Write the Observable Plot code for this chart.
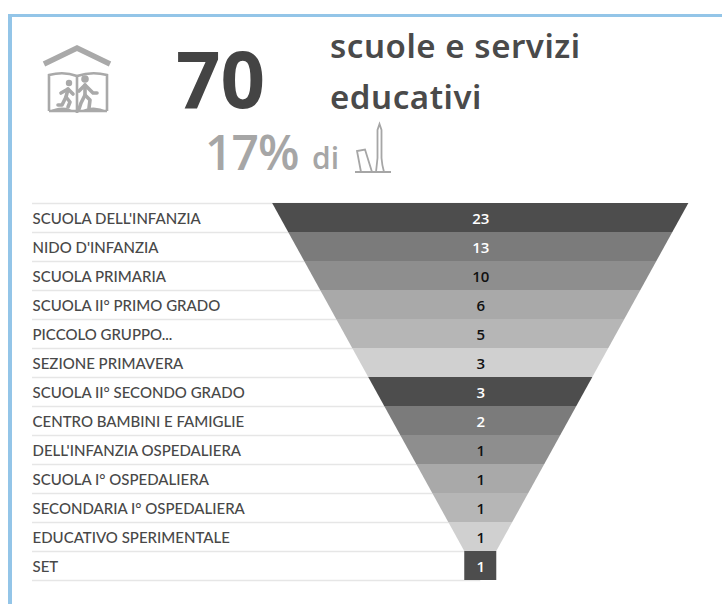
<!DOCTYPE html>
<html><head><meta charset="utf-8">
<script src="https://cdn.jsdelivr.net/npm/d3@7"></script>
<script src="https://cdn.jsdelivr.net/npm/@observablehq/plot@0.6"></script>
<style>
html,body{margin:0;padding:0;background:#fff;width:722px;height:604px;overflow:hidden}
#frame{position:absolute;left:8px;top:14px;right:0;bottom:0;border-top:3px solid #93c5e8;border-left:4px solid #93c5e8}
#head{position:relative;width:722px;height:195px}
#head div{position:absolute;white-space:nowrap;line-height:1}
#chart{position:relative}
#chart svg{display:block}
</style></head><body>
<div id="frame"></div>
<div id="head">
<svg style="position:absolute;left:40px;top:44px" width="74" height="72" viewBox="40 44 74 72">
 <path d="M44 64 L77 48 L110 64" fill="none" stroke="#a9a9a9" stroke-width="5.5"/>
 <g fill="none" stroke="#a9a9a9" stroke-width="2.6">
  <path d="M49 111 V75 Q64 71 77 76 Q92 71 107 75 V111"/>
  <path d="M49 111 H107"/><path d="M77 76 V113"/>
 </g>
 <path d="M49 111 Q64 103 77 113 Q92 103 107 111Z" fill="#a9a9a9"/>
 <g fill="none" stroke="#a9a9a9" stroke-width="3.6" stroke-linecap="round" stroke-linejoin="round">
  <path d="M68 89 L66 97 L70 102 L68 107"/><path d="M66 97 L62 105 L58 105"/><path d="M61 93 L68 89 L73 94"/>
  <path d="M85 85 L85 95 L90 100 L89 108"/><path d="M85 95 L81 103 L79 109"/><path d="M85 85 L79 91 M85 85 L93 93 L97 93" />
 </g>
 <circle cx="69" cy="83" r="3.2" fill="#a9a9a9"/><circle cx="85" cy="79" r="3.8" fill="#a9a9a9"/>
</svg>
<div style="left:176px;top:25px;font:700 78px 'Open Sans';color:#444">70</div>
<div style="left:330px;top:23px;font:600 33px 'Noto Sans';color:#4a4a4a;letter-spacing:.55px">scuole e servizi</div>
<div style="left:330px;top:74px;font:600 33px 'Noto Sans';color:#4a4a4a;letter-spacing:.55px">educativi</div>
<div style="left:205px;top:119px;font:600 48px 'Open Sans';color:#a6a6a6;letter-spacing:-1px">17%</div>
<div style="left:312px;top:137px;font:600 30px 'Open Sans';color:#a6a6a6">di</div>
<svg style="position:absolute;left:352px;top:120px" width="42" height="56" viewBox="352 120 42 56">
 <g fill="none" stroke="#a6a6a6" stroke-width="1.8">
  <path d="M355 172 H391"/>
  <path d="M376 172 Q377 163 377.5 158 V130 L379.5 124 L381.5 130 V158 Q382 165 384 172"/>
  <path d="M361 172 L357 151 L365 149.5 L372 172"/>
 </g>
</svg>
</div>
<div id="chart"></div>
<script>
const categories = ["SCUOLA DELL'INFANZIA","NIDO D'INFANZIA","SCUOLA PRIMARIA","SCUOLA II° PRIMO GRADO","PICCOLO GRUPPO...","SEZIONE PRIMAVERA","SCUOLA II° SECONDO GRADO","CENTRO BAMBINI E FAMIGLIE","DELL'INFANZIA OSPEDALIERA","SCUOLA I° OSPEDALIERA","SECONDARIA I° OSPEDALIERA","EDUCATIVO SPERIMENTALE","SET"];
const values = [23,13,10,6,5,3,3,2,1,1,1,1,1];
const fills = ["#4d4d4d","#7b7b7b","#8e8e8e","#a9a9a9","#b6b6b6","#d0d0d0","#4d4d4d","#7b7b7b","#8e8e8e","#a9a9a9","#b6b6b6","#d0d0d0","#4d4d4d"];
const inks = ["#fff","#fff","#111","#111","#111","#111","#fff","#fff","#111","#111","#111","#111","#fff"];

const n = categories.length;
const rows = categories.map((name,i)=>({name,value:values[i],row:i,mid:i+.5,fill:fills[i],ink:inks[i]}));
// funnel: each step narrows by one unit per side, ending in a one-unit neck
const band = rows.flatMap(r=>[
  {row:r.row,y:r.row,half:Math.max(n-r.row,1),fill:r.fill},
  {row:r.row,y:r.row+1,half:Math.max(n-r.row-1,1),fill:r.fill}
]);
const seps = d3.range(n+1).map(y=>({y}));
const font = "Lato, 'Noto Sans', sans-serif";
document.getElementById("chart").append(Plot.plot({
  width:722,height:400,marginTop:8,marginBottom:15,marginLeft:0,marginRight:0,
  style:{fontFamily:font,background:"transparent"},
  x:{domain:[-30,15.1],range:[0,722],axis:null},
  y:{domain:[0,n],reverse:true,axis:null},
  marks:[
    Plot.ruleY(seps,{y:"y",x1:-28,x2:0,stroke:"#e6e6e6",strokeWidth:1.5}),
    Plot.areaX(band,{x1:d=>-d.half,x2:d=>d.half,y:"y",z:"row",fill:"fill",curve:"linear"}),
    Plot.text(rows,{x:-28,y:"mid",dy:1,text:"name",textAnchor:"start",fill:"#484848",fontSize:15,fontWeight:500}),
    Plot.text(rows,{x:0,y:"mid",dy:1.5,text:d=>String(d.value),fill:"ink",fontSize:15,fontWeight:600,fontFamily:"'Open Sans'"})
  ]
}));
</script>
</body></html>
